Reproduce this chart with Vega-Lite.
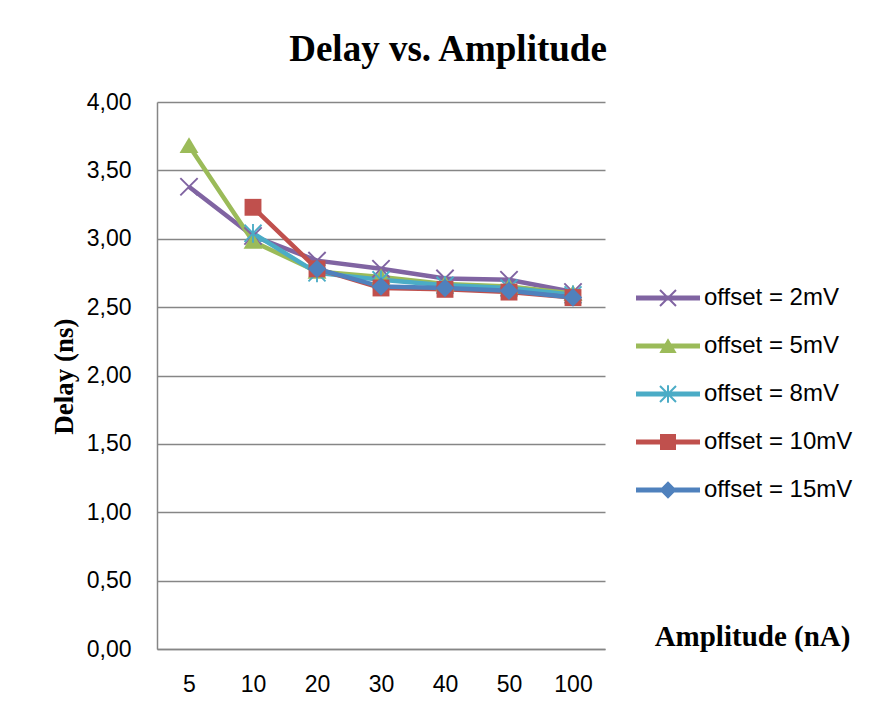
{
  "$schema": "https://vega.github.io/schema/vega-lite/v6.json",
  "width": 448,
  "height": 547,
  "autosize": {"type": "none"},
  "padding": {"left": 157, "top": 102, "right": 268, "bottom": 62},
  "background": "white",
  "title": {
    "text": "Delay vs. Amplitude",
    "font": "Liberation Serif",
    "fontSize": 37,
    "fontWeight": "bold",
    "color": "black",
    "anchor": "middle",
    "dx": 67,
    "offset": 22
  },
  "config": {
    "view": {"stroke": null},
    "axis": {
      "labelFont": "Liberation Sans",
      "labelFontSize": 23,
      "labelColor": "black",
      "ticks": false,
      "domainColor": "#868686",
      "domainWidth": 1.5,
      "gridColor": "#868686",
      "gridWidth": 1.3
    }
  },
  "data": {
    "values": [
      {"amp": "5", "series": "offset = 2mV", "delay": 3.38},
      {"amp": "10", "series": "offset = 2mV", "delay": 3.02},
      {"amp": "20", "series": "offset = 2mV", "delay": 2.84},
      {"amp": "30", "series": "offset = 2mV", "delay": 2.78},
      {"amp": "40", "series": "offset = 2mV", "delay": 2.71},
      {"amp": "50", "series": "offset = 2mV", "delay": 2.7},
      {"amp": "100", "series": "offset = 2mV", "delay": 2.61},
      {"amp": "5", "series": "offset = 5mV", "delay": 3.68},
      {"amp": "10", "series": "offset = 5mV", "delay": 2.98},
      {"amp": "20", "series": "offset = 5mV", "delay": 2.76},
      {"amp": "30", "series": "offset = 5mV", "delay": 2.72},
      {"amp": "40", "series": "offset = 5mV", "delay": 2.67},
      {"amp": "50", "series": "offset = 5mV", "delay": 2.65},
      {"amp": "100", "series": "offset = 5mV", "delay": 2.6},
      {"amp": "10", "series": "offset = 8mV", "delay": 3.04},
      {"amp": "20", "series": "offset = 8mV", "delay": 2.75},
      {"amp": "30", "series": "offset = 8mV", "delay": 2.7},
      {"amp": "40", "series": "offset = 8mV", "delay": 2.66},
      {"amp": "50", "series": "offset = 8mV", "delay": 2.64},
      {"amp": "100", "series": "offset = 8mV", "delay": 2.59},
      {"amp": "10", "series": "offset = 10mV", "delay": 3.23},
      {"amp": "20", "series": "offset = 10mV", "delay": 2.78},
      {"amp": "30", "series": "offset = 10mV", "delay": 2.64},
      {"amp": "40", "series": "offset = 10mV", "delay": 2.63},
      {"amp": "50", "series": "offset = 10mV", "delay": 2.61},
      {"amp": "100", "series": "offset = 10mV", "delay": 2.57},
      {"amp": "20", "series": "offset = 15mV", "delay": 2.78},
      {"amp": "30", "series": "offset = 15mV", "delay": 2.65},
      {"amp": "40", "series": "offset = 15mV", "delay": 2.64},
      {"amp": "50", "series": "offset = 15mV", "delay": 2.62},
      {"amp": "100", "series": "offset = 15mV", "delay": 2.57}
    ]
  },
  "encoding": {
    "x": {
      "field": "amp",
      "type": "ordinal",
      "sort": ["5", "10", "20", "30", "40", "50", "100"],
      "scale": {"type": "point", "padding": 0.5},
      "axis": {
        "labelAngle": 0,
        "labelPadding": 24,
        "grid": false,
        "title": "Amplitude (nA)",
        "titleFont": "Liberation Serif",
        "titleFontSize": 29,
        "titleFontWeight": "bold",
        "titleColor": "black",
        "titleX": 595,
        "titleY": -13,
        "titleAlign": "center",
        "titleBaseline": "middle"
      }
    },
    "y": {
      "field": "delay",
      "type": "quantitative",
      "scale": {"domain": [0, 4], "nice": false, "zero": true},
      "axis": {
        "values": [0, 0.5, 1, 1.5, 2, 2.5, 3, 3.5, 4],
        "labelExpr": "replace(format(datum.value, '.2f'), '.', ',')",
        "labelPadding": 26,
        "grid": true,
        "title": "Delay (ns)",
        "titleFont": "Liberation Serif",
        "titleFontSize": 27,
        "titleFontWeight": "bold",
        "titleColor": "black",
        "titleX": -93,
        "titleY": 274,
        "titleAlign": "center",
        "titleBaseline": "middle",
        "titleAngle": -90
      }
    }
  },
  "layer": [
    {
      "mark": {"type": "line", "strokeWidth": 4.5},
      "encoding": {
        "color": {
          "field": "series",
          "type": "nominal",
          "scale": {
            "domain": ["offset = 2mV", "offset = 5mV", "offset = 8mV", "offset = 10mV", "offset = 15mV"],
            "range": ["#8064A2", "#9BBB59", "#4BACC6", "#C0504D", "#4F81BD"]
          },
          "legend": null
        }
      }
    },
    {
      "mark": {"type": "point", "filled": true, "opacity": 1},
      "encoding": {
        "color": {
          "field": "series",
          "type": "nominal",
          "scale": {
            "domain": ["offset = 2mV", "offset = 5mV", "offset = 8mV", "offset = 10mV", "offset = 15mV"],
            "range": ["#8064A2", "#9BBB59", "#4BACC6", "#C0504D", "#4F81BD"]
          },
          "legend": null
        },
        "shape": {
          "field": "series",
          "type": "nominal",
          "scale": {
            "domain": ["offset = 2mV", "offset = 5mV", "offset = 8mV", "offset = 10mV", "offset = 15mV"],
            "range": [
              "M-0.922,-1.078L1.078,0.922L0.922,1.078L-1.078,-0.922Z M-0.922,1.078L-1.078,0.922L0.922,-1.078L1.078,-0.922Z",
              "M0,-1L1.1,0.85L-1.1,0.85Z",
              "M-0.922,-1.078L1.078,0.922L0.922,1.078L-1.078,-0.922Z M-0.922,1.078L-1.078,0.922L0.922,-1.078L1.078,-0.922Z M-0.11,-1.1L0.11,-1.1L0.11,1.1L-0.11,1.1Z",
              "M-1,-1L1,-1L1,1L-1,1Z",
              "M0,-1.1L1.1,0L0,1.1L-1.1,0Z"
            ]
          },
          "legend": null
        },
        "size": {
          "field": "series",
          "type": "nominal",
          "scale": {
            "domain": ["offset = 2mV", "offset = 5mV", "offset = 8mV", "offset = 10mV", "offset = 15mV"],
            "range": [300, 280, 300, 380, 330]
          },
          "legend": null
        }
      }
    },
    {
      "transform": [{"filter": "datum.delay < 0"}],
      "mark": {"type": "point", "filled": true, "opacity": 1},
      "encoding": {
        "color": {
          "field": "series",
          "type": "nominal",
          "scale": {
            "domain": ["offset = 2mV", "offset = 5mV", "offset = 8mV", "offset = 10mV", "offset = 15mV"],
            "range": ["#8064A2", "#9BBB59", "#4BACC6", "#C0504D", "#4F81BD"]
          },
          "legend": {
            "title": null,
            "orient": "none",
            "legendX": 479,
            "legendY": 181,
            "padding": 0,
            "symbolSize": 4096,
            "symbolStrokeWidth": 0,
            "symbolOpacity": 1,
            "clipHeight": 30,
            "rowPadding": 18,
            "labelOffset": 4,
            "labelFont": "Liberation Sans",
            "labelFontSize": 24,
            "labelColor": "black",
            "labelLimit": 300
          }
        },
        "shape": {
          "field": "series",
          "type": "nominal",
          "scale": {
            "domain": ["offset = 2mV", "offset = 5mV", "offset = 8mV", "offset = 10mV", "offset = 15mV"],
            "range": [
              "M-1,-0.078L1,-0.078L1,0.078L-1,0.078Z M-0.228,-0.272L0.272,0.228L0.228,0.272L-0.272,-0.228Z M-0.228,0.272L-0.272,0.228L0.228,-0.272L0.272,-0.228Z",
              "M-1,-0.078L1,-0.078L1,0.078L-1,0.078Z M0,-0.24L0.27,0.22L-0.27,0.22Z",
              "M-1,-0.078L1,-0.078L1,0.078L-1,0.078Z M-0.228,-0.272L0.272,0.228L0.228,0.272L-0.272,-0.228Z M-0.228,0.272L-0.272,0.228L0.228,-0.272L0.272,-0.228Z M-0.031,-0.27L0.031,-0.27L0.031,0.27L-0.031,0.27Z",
              "M-1,-0.078L1,-0.078L1,0.078L-1,0.078Z M-0.25,-0.25L0.25,-0.25L0.25,0.25L-0.25,0.25Z",
              "M-1,-0.078L1,-0.078L1,0.078L-1,0.078Z M0,-0.27L0.27,0L0,0.27L-0.27,0Z"
            ]
          }
        }
      }
    }
  ],
  "resolve": {
    "scale": {"color": "independent", "shape": "independent", "size": "independent"},
    "legend": {"color": "independent", "shape": "independent"}
  }
}
